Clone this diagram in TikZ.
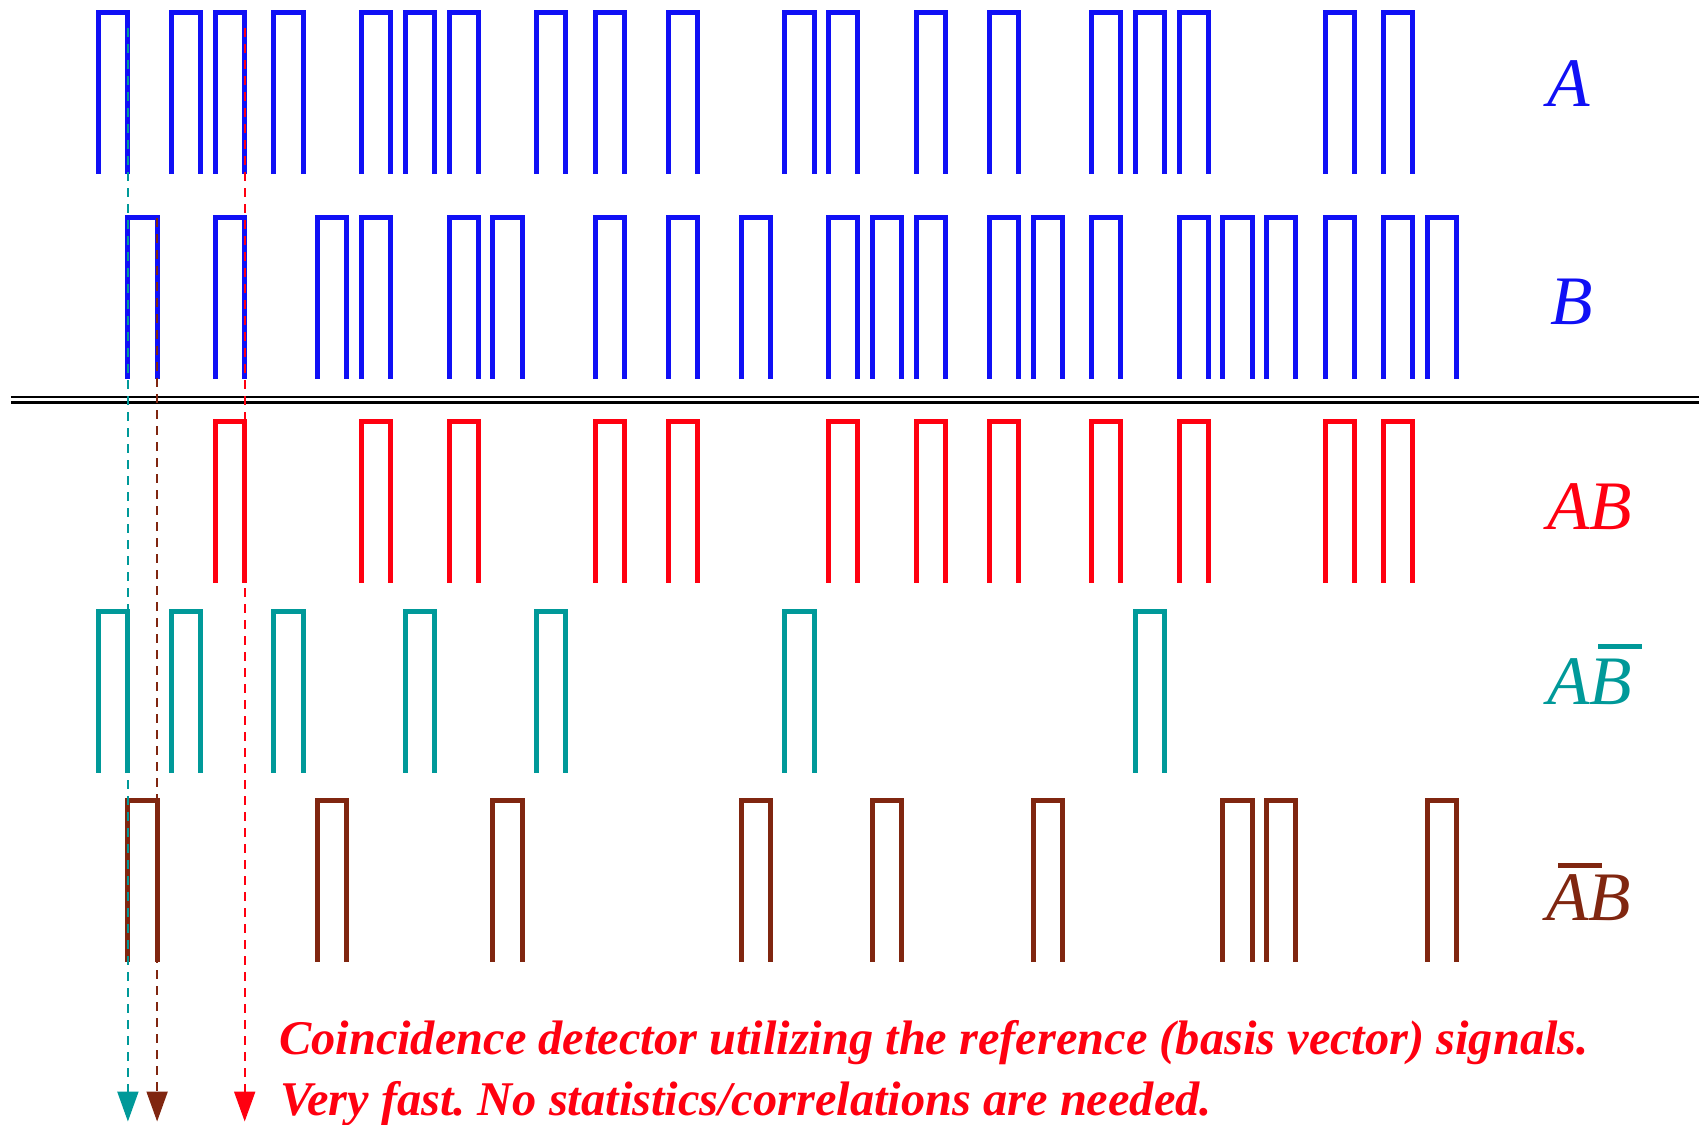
\documentclass[tikz,border=0pt]{standalone}
\usepackage{fontspec}
\setmainfont{Liberation Serif}
\usetikzlibrary{arrows.meta}
\definecolor{sigblue}{RGB}{16,16,245}
\definecolor{sigred}{RGB}{255,0,16}
\definecolor{sigteal}{RGB}{0,153,153}
\definecolor{sigbrown}{RGB}{128,38,16}
\newcommand\barover[3]{\leavevmode\rlap{\hspace{#1}\rule[#2]{44pt}{5.5pt}}#3}
\frenchspacing
\begin{document}
\begin{tikzpicture}[x=1pt,y=-1pt,
  pulse/.style={line width=5pt,miter limit=10},
  lbl/.style={inner sep=0pt,anchor=base west,font=\fontsize{69.5}{70}\selectfont\itshape},
  guide/.style={line width=2pt,dash pattern=on 9pt off 7pt,-{Triangle[length=30pt,width=21pt]}},
  note/.style={inner sep=0pt,anchor=base west,text=sigred,font=\fontsize{48.4}{50}\selectfont\bfseries\itshape}]
\useasboundingbox (0,0) rectangle (1699,1124);
\def\xo{98.7}\def\uu{14.6}\def\hh{161}
% A
\foreach \n in {0,5,8,12,18,21,24,30,34,39,47,50,56,61,68,71,74,84,88}
  \draw[pulse,sigblue] ({\xo+\n*\uu},173.7) -- ++(0,-\hh) -- ++({2*\uu},0) -- ++(0,\hh);
% B
\foreach \n in {2,8,15,18,24,27,34,39,44,50,53,56,61,64,68,74,77,80,84,88,91}
  \draw[pulse,sigblue] ({\xo+\n*\uu},378.5) -- ++(0,-\hh) -- ++({2*\uu},0) -- ++(0,\hh);
% AB
\foreach \n in {8,18,24,34,39,50,56,61,68,74,84,88}
  \draw[pulse,sigred] ({\xo+\n*\uu},582.5) -- ++(0,-\hh) -- ++({2*\uu},0) -- ++(0,\hh);
% A not B
\foreach \n in {0,5,12,21,30,47,71}
  \draw[pulse,sigteal] ({\xo+\n*\uu},772.7) -- ++(0,-\hh) -- ++({2*\uu},0) -- ++(0,\hh);
% not A B
\foreach \n in {2,15,27,44,53,64,77,80,91}
  \draw[pulse,sigbrown] ({\xo+\n*\uu},961.8) -- ++(0,-\hh) -- ++({2*\uu},0) -- ++(0,\hh);
% separator
\coordinate (sepL1) at (10.8,397);\coordinate (sepR1) at (1699,397);
\coordinate (sepL2) at (10.8,402.5);\coordinate (sepR2) at (1699,402.5);
\draw[line width=2.2pt] (sepL1) -- (sepR1);
\draw[line width=2.2pt] (sepL2) -- (sepR2);
% labels
\node[lbl,text=sigblue] (la) at (1547,106) {A};
\node[lbl,text=sigblue] (lb) at (1550,324) {B};
\node[lbl,text=sigred] (lab) at (1547,529) {AB};
\node[lbl,text=sigteal] (labn) at (1547,704) {A\barover{8pt}{55pt}{B}};
\node[lbl,text=sigbrown] (lanb) at (1546,920) {\barover{12pt}{52pt}{A}B};
% guides
\coordinate (gt0) at ({\xo+2*\uu},28);\coordinate (gt1) at ({\xo+2*\uu},1121.5);
\coordinate (gb0) at ({\xo+4*\uu},218);\coordinate (gb1) at ({\xo+4*\uu},1121.5);
\coordinate (gr0) at ({\xo+10*\uu},28);\coordinate (gr1) at ({\xo+10*\uu},1121.5);
\draw[guide,sigteal] (gt0) -- (gt1);
\draw[guide,sigbrown] (gb0) -- (gb1);
\draw[guide,sigred] (gr0) -- (gr1);
% note
\node[note] (n1) at (279,1054) {Coincidence detector utilizing the reference (basis vector) signals.};
\node[note] (n2) at (280,1115) {Very fast. No statistics/correlations are needed.};
\end{tikzpicture}
\end{document}
